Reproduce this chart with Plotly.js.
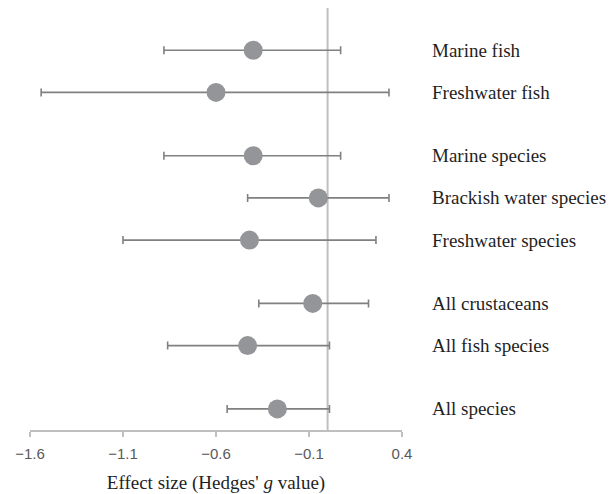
<!DOCTYPE html>
<html>
<head>
<meta charset="utf-8">
<script src="https://cdn.plot.ly/plotly-3.0.1.min.js"></script>
<style>
  html, body { margin: 0; padding: 0; background: #fff; }
  #chart { width: 616px; height: 494px; }
</style>
</head>
<body>
<div id="chart"></div>
<script>
// Data
var groups = ["Marine fish", "Freshwater fish", "Marine species", "Brackish water species",
              "Freshwater species", "All crustaceans", "All fish species", "All species"];
var rowIndex = [8.5, 7.5, 6, 5, 4, 2.5, 1.5, 0];
var effect = [-0.40, -0.60, -0.40, -0.05, -0.42, -0.08, -0.43, -0.27];
var ciLower = [-0.88, -1.54, -0.88, -0.43, -1.10, -0.37, -0.86, -0.54];
var ciUpper = [0.07, 0.33, 0.07, 0.33, 0.26, 0.22, 0.01, 0.01];
var xTicks = [-1.6, -1.1, -0.6, -0.1, 0.4];

var plus = effect.map(function (m, i) { return ciUpper[i] - m; });
var minus = effect.map(function (m, i) { return m - ciLower[i]; });

var trace = {
  type: "scatter",
  mode: "markers",
  x: effect,
  y: rowIndex,
  marker: { size: 19, color: "#939598" },
  error_x: {
    type: "data", symmetric: false,
    array: plus, arrayminus: minus,
    color: "#808080", thickness: 1.6, width: 4
  },
  hoverinfo: "skip",
  cliponaxis: false
};

var annotations = groups.map(function (g, i) {
  return {
    xref: "paper", yref: "y", x: 1, y: rowIndex[i],
    xanchor: "left", yanchor: "middle", xshift: 28,
    text: g, showarrow: false,
    font: { family: "Liberation Serif, Times New Roman, serif", size: 19, color: "#1f1f1f" }
  };
});

var layout = {
  width: 616, height: 494,
  margin: { l: 30, r: 214, t: 8, b: 64 },
  paper_bgcolor: "#fff", plot_bgcolor: "#fff",
  showlegend: false,
  hovermode: false,
  xaxis: {
    range: [-1.6, 0.4],
    tickvals: xTicks,
    tickformat: ".1f",
    ticks: "outside", ticklen: 5, tickwidth: 1.5, tickcolor: "#bfbfbf",
    ticklabelstandoff: 4,
    showline: true, linecolor: "#bfbfbf", linewidth: 1.5,
    showgrid: false, zeroline: false,
    tickfont: { family: "Liberation Sans, Arial, sans-serif", size: 15, color: "#595959" },
    title: {
      text: "Effect size (Hedges' <i>g</i> value)",
      font: { family: "Liberation Serif, Times New Roman, serif", size: 19, color: "#1f1f1f" },
      standoff: 16
    }
  },
  yaxis: {
    range: [-0.5, 9.5],
    visible: false,
    showgrid: false, zeroline: false
  },
  shapes: [{
    type: "line", xref: "x", yref: "paper",
    x0: 0, x1: 0, y0: 0, y1: 1,
    line: { color: "#bfbfbf", width: 2 },
    layer: "below"
  }],
  annotations: annotations
};

Plotly.newPlot("chart", [trace], layout, { staticPlot: true, displayModeBar: false });
</script>
</body>
</html>
